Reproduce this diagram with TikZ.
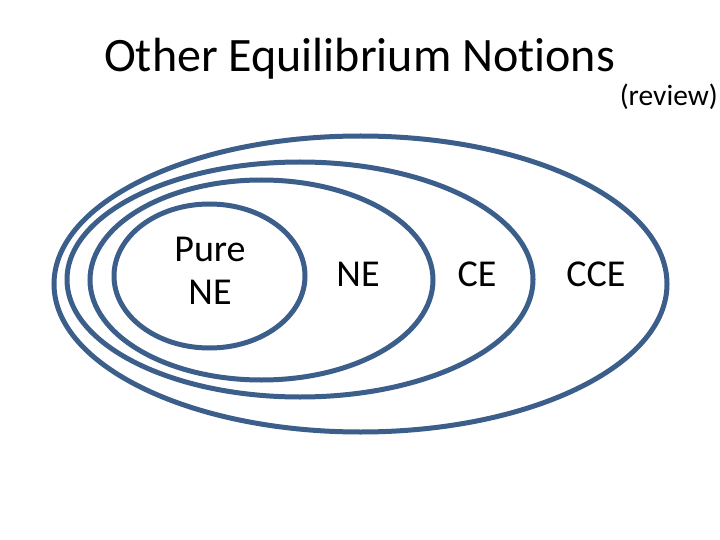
\documentclass[tikz,border=0pt]{standalone}
\usepackage{fontspec}
\setmainfont{Carlito}[Ligatures=NoCommon]
\usetikzlibrary{shapes.geometric}
\definecolor{ringblue}{RGB}{59,94,138}
\tikzset{
  ring/.style={ellipse, draw=ringblue, line width=5pt, inner sep=0pt, outer sep=0pt},
  lbl/.style={font=\fontsize{38}{43}\selectfont, text=black, inner sep=0pt, align=center}
}
\begin{document}
\begin{tikzpicture}[x=1pt,y=-1pt]
\useasboundingbox (0,0) rectangle (720,540);
\node[ring, minimum width=613pt, minimum height=296pt] (cce) at (360.5,284) {};
\node[ring, minimum width=466pt, minimum height=235pt] (ce) at (300,279.5) {};
\node[ring, minimum width=343pt, minimum height=200pt] (ne) at (261.5,280) {};
\node[ring, minimum width=191pt, minimum height=144pt] (pure) at (209.5,276) {};
\node[anchor=base west, inner sep=0pt, font=\fontsize{48}{50}\selectfont] (title) at (104,72) {Other Equilibrium Notions};
\node[anchor=base east, inner sep=0pt, font=\fontsize{29.5}{32}\selectfont] (review) at (718,106) {(review)};
\node[lbl, anchor=base] (purelbl) at (210,304) {Pure\\NE};
\node[lbl, anchor=base] (nelbl) at (358,286) {NE};
\node[lbl, anchor=base] (celbl) at (477,286) {CE};
\node[lbl, anchor=base] (ccelbl) at (596,286) {CCE};
\end{tikzpicture}
\end{document}
